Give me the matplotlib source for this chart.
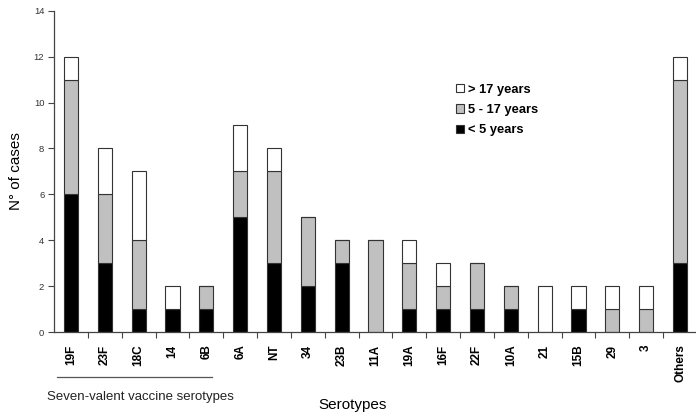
import matplotlib.pyplot as plt
from matplotlib.patches import Patch
from matplotlib.lines import Line2D
import matplotlib.transforms as mtransforms

plt.rcParams['font.family'] = ['Liberation Sans', 'DejaVu Sans']

serotypes = ["19F", "23F", "18C", "14", "6B", "6A", "NT", "34", "23B", "11A",
             "19A", "16F", "22F", "10A", "21", "15B", "29", "3", "Others"]
under5 = [6, 3, 1, 1, 1, 5, 3, 2, 3, 0, 1, 1, 1, 1, 0, 1, 0, 0, 3]
age5_17 = [5, 3, 3, 0, 1, 2, 4, 3, 1, 4, 2, 1, 2, 1, 0, 0, 1, 1, 8]
over17 = [1, 2, 3, 1, 0, 2, 1, 0, 0, 0, 1, 1, 0, 0, 2, 1, 1, 1, 1]

fig = plt.figure(figsize=(6.96, 4.18), dpi=100)
ax = fig.add_axes([0.0776, 0.2057, 0.9238, 0.7687])

x = list(range(len(serotypes)))
w = 0.42
edge = dict(edgecolor="#333333", linewidth=0.8)
ax.bar(x, under5, w, color="black", **edge)
ax.bar(x, age5_17, w, bottom=under5, color="#c0c0c0", **edge)
bottom2 = [a + b for a, b in zip(under5, age5_17)]
ax.bar(x, over17, w, bottom=bottom2, color="white", **edge)

ax.set_xlim(-0.5, len(serotypes) - 0.5)
ax.set_ylim(0, 14)
ax.set_yticks(range(0, 15, 2))
ax.tick_params(axis="y", labelsize=6.8, labelcolor="#333333", color="#444444",
               length=4, width=0.8, direction="out", pad=3)

# labels at bar centres, tick marks between bars
ax.set_xticks(x)
ax.set_xticklabels(serotypes, rotation=90, fontsize=8.5, fontweight="bold", va="top")
ax.tick_params(axis="x", which="major", length=0, pad=9)
ax.set_xticks([i - 0.5 for i in range(1, len(serotypes))], minor=True)
ax.tick_params(axis="x", which="minor", length=4, width=0.8, color="#444444", direction="out")

for s in ["top", "right"]:
    ax.spines[s].set_visible(False)
for s in ["left", "bottom"]:
    ax.spines[s].set_color("#444444")
    ax.spines[s].set_linewidth(0.9)

ax.set_ylabel("N° of cases", fontsize=11)
ax.yaxis.set_label_coords(-0.048, 0.5)
fig.text(0.507, 0.031, "Serotypes", fontsize=11, ha="center", va="center")

trans = mtransforms.blended_transform_factory(ax.transData, ax.transAxes)
ax.add_line(Line2D([-0.41, 4.17], [-0.14, -0.14], transform=trans,
                   color="#555555", linewidth=0.9, clip_on=False))
ax.text(2.06, -0.202, "Seven-valent vaccine serotypes", transform=trans,
        fontsize=9.5, ha="center", va="center", color="#222222")

handles = [Patch(facecolor="white", edgecolor="#333333", linewidth=0.8),
           Patch(facecolor="#c0c0c0", edgecolor="#333333", linewidth=0.8),
           Patch(facecolor="black", edgecolor="#333333", linewidth=0.8)]
labels = ["> 17 years", "5 - 17 years", "< 5 years"]
leg = ax.legend(handles, labels, loc="upper left", bbox_to_anchor=(0.655, 0.800),
                bbox_transform=fig.transFigure, frameon=False, fontsize=9.3,
                handlelength=0.6, handleheight=0.6, handletextpad=0.35,
                labelspacing=0.65, borderpad=0, borderaxespad=0)
for t in leg.get_texts():
    t.set_fontweight("bold")

fig.savefig("out.png", dpi=100)
